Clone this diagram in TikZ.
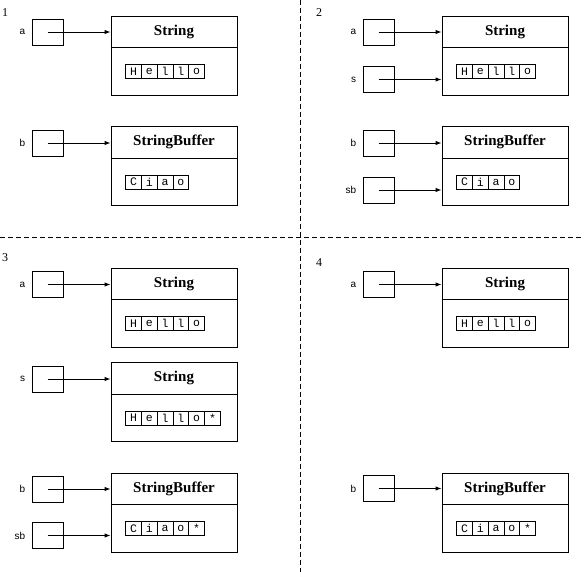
\documentclass[tikz,border=0pt]{standalone}
\usepackage{fontspec}
\setmainfont{Liberation Serif}
\setsansfont{Liberation Sans}
\setmonofont{Liberation Mono}
\usetikzlibrary{arrows.meta,positioning}

\begin{document}
\begin{tikzpicture}[x=1pt,y=-1pt,line width=0.9pt,
        varbox/.style={draw,minimum width=31pt,minimum height=26pt,inner sep=0pt},
        varname/.style={font=\sffamily\fontsize{10}{10}\selectfont,inner sep=0pt},
        objbox/.style={draw,minimum width=126pt,minimum height=79pt,inner sep=0pt},
        objtitle/.style={font=\bfseries\fontsize{15}{15}\selectfont,inner sep=0pt},
        cell/.style={draw,minimum width=15.8pt,minimum height=14pt,inner sep=0pt,font=\ttfamily\fontsize{11.5}{11.5}\selectfont},
        ref/.style={-{Latex[length=6pt,width=4.5pt]}},
        panelnum/.style={font=\fontsize{12}{12}\selectfont,inner sep=0pt}]
        \useasboundingbox (0,0) rectangle (584,572);

        % quadrant borders
        \draw[dash pattern=on 5pt off 3pt] (300.5,0) -- (300.5,572);
        \draw[dash pattern=on 5pt off 3pt] (0,237) -- (584,237);

        % 1
        \node[panelnum] (n1) at (5,13) {1};
        \node[varbox] (a1) at (47.5,32) {};
        \node[varname,left=6pt of a1] (na1) {a};
        \node[objbox] (str1) at (174,55.5) {};
        \node[objtitle] (tstr1) at ([yshift=-16pt]str1.north) {String};
        \draw ([yshift=-32pt]str1.north west) -- ([yshift=-32pt]str1.north east);
        \foreach \c [count=\i] in {H,e,l,l,o}
            \node[cell] (cstr1\i) at ([xshift=7.1pt+15.8pt*\i,yshift=-56pt]str1.north west) {\c};
        \draw[ref] (a1.center) -- (str1.west |- a1.center);

        \node[varbox] (b1) at (47.5,143) {};
        \node[varname,left=6pt of b1] (nb1) {b};
        \node[objbox] (buf1) at (174,166) {};
        \node[objtitle] (tbuf1) at ([yshift=-16pt]buf1.north) {StringBuffer};
        \draw ([yshift=-32pt]buf1.north west) -- ([yshift=-32pt]buf1.north east);
        \foreach \c [count=\i] in {C,i,a,o}
            \node[cell] (cbuf1\i) at ([xshift=7.1pt+15.8pt*\i,yshift=-56pt]buf1.north west) {\c};
        \draw[ref] (b1.center) -- (buf1.west |- b1.center);

        % 2
        \node[panelnum] (n2) at (319,13) {2};
        \node[varbox] (a2) at (378.5,32) {};
        \node[varname,left=6pt of a2] (na2) {a};
        \node[varbox] (s2) at (378.5,79.5) {};
        \node[varname,left=6pt of s2] (ns2) {s};
        \node[objbox] (str2) at (505,55.5) {};
        \node[objtitle] (tstr2) at ([yshift=-16pt]str2.north) {String};
        \draw ([yshift=-32pt]str2.north west) -- ([yshift=-32pt]str2.north east);
        \foreach \c [count=\i] in {H,e,l,l,o}
            \node[cell] (cstr2\i) at ([xshift=7.1pt+15.8pt*\i,yshift=-56pt]str2.north west) {\c};
        \draw[ref] (a2.center) -- (str2.west |- a2.center);
        \draw[ref] (s2.center) -- (str2.west |- s2.center);

        \node[varbox] (b2) at (378.5,143) {};
        \node[varname,left=6pt of b2] (nb2) {b};
        \node[varbox] (sb2) at (378.5,190) {};
        \node[varname,left=6pt of sb2] (nsb2) {sb};
        \node[objbox] (buf2) at (505,166) {};
        \node[objtitle] (tbuf2) at ([yshift=-16pt]buf2.north) {StringBuffer};
        \draw ([yshift=-32pt]buf2.north west) -- ([yshift=-32pt]buf2.north east);
        \foreach \c [count=\i] in {C,i,a,o}
            \node[cell] (cbuf2\i) at ([xshift=7.1pt+15.8pt*\i,yshift=-56pt]buf2.north west) {\c};
        \draw[ref] (b2.center) -- (buf2.west |- b2.center);
        \draw[ref] (sb2.center) -- (buf2.west |- sb2.center);

        % 3
        \node[panelnum] (n3) at (5,258) {3};
        \node[varbox] (a3) at (47.5,284.5) {};
        \node[varname,left=6pt of a3] (na3) {a};
        \node[objbox] (str3) at (174,307.5) {};
        \node[objtitle] (tstr3) at ([yshift=-16pt]str3.north) {String};
        \draw ([yshift=-32pt]str3.north west) -- ([yshift=-32pt]str3.north east);
        \foreach \c [count=\i] in {H,e,l,l,o}
            \node[cell] (cstr3\i) at ([xshift=7.1pt+15.8pt*\i,yshift=-56pt]str3.north west) {\c};
        \draw[ref] (a3.center) -- (str3.west |- a3.center);

        \node[varbox] (s3) at (47.5,379) {};
        \node[varname,left=6pt of s3] (ns3) {s};
        \node[objbox] (nstr3) at (174,402) {};
        \node[objtitle] (tnstr3) at ([yshift=-16pt]nstr3.north) {String};
        \draw ([yshift=-32pt]nstr3.north west) -- ([yshift=-32pt]nstr3.north east);
        \foreach \c [count=\i] in {H,e,l,l,o,*}
            \node[cell] (cnstr3\i) at ([xshift=7.1pt+15.8pt*\i,yshift=-56pt]nstr3.north west) {\c};
        \draw[ref] (s3.center) -- (nstr3.west |- s3.center);

        \node[varbox] (b3) at (47.5,489) {};
        \node[varname,left=6pt of b3] (nb3) {b};
        \node[varbox] (sb3) at (47.5,535.5) {};
        \node[varname,left=6pt of sb3] (nsb3) {sb};
        \node[objbox] (buf3) at (174,512.5) {};
        \node[objtitle] (tbuf3) at ([yshift=-16pt]buf3.north) {StringBuffer};
        \draw ([yshift=-32pt]buf3.north west) -- ([yshift=-32pt]buf3.north east);
        \foreach \c [count=\i] in {C,i,a,o,*}
            \node[cell] (cbuf3\i) at ([xshift=7.1pt+15.8pt*\i,yshift=-56pt]buf3.north west) {\c};
        \draw[ref] (b3.center) -- (buf3.west |- b3.center);
        \draw[ref] (sb3.center) -- (buf3.west |- sb3.center);

        % 4
        \node[panelnum] (n4) at (319,263) {4};
        \node[varbox] (a4) at (378.5,284.5) {};
        \node[varname,left=6pt of a4] (na4) {a};
        \node[objbox] (str4) at (505,307.5) {};
        \node[objtitle] (tstr4) at ([yshift=-16pt]str4.north) {String};
        \draw ([yshift=-32pt]str4.north west) -- ([yshift=-32pt]str4.north east);
        \foreach \c [count=\i] in {H,e,l,l,o}
            \node[cell] (cstr4\i) at ([xshift=7.1pt+15.8pt*\i,yshift=-56pt]str4.north west) {\c};
        \draw[ref] (a4.center) -- (str4.west |- a4.center);

        \node[varbox] (b4) at (378.5,488.5) {};
        \node[varname,left=6pt of b4] (nb4) {b};
        \node[objbox] (buf4) at (505,512.5) {};
        \node[objtitle] (tbuf4) at ([yshift=-16pt]buf4.north) {StringBuffer};
        \draw ([yshift=-32pt]buf4.north west) -- ([yshift=-32pt]buf4.north east);
        \foreach \c [count=\i] in {C,i,a,o,*}
            \node[cell] (cbuf4\i) at ([xshift=7.1pt+15.8pt*\i,yshift=-56pt]buf4.north west) {\c};
        \draw[ref] (b4.center) -- (buf4.west |- b4.center);
\end{tikzpicture}
\end{document}
